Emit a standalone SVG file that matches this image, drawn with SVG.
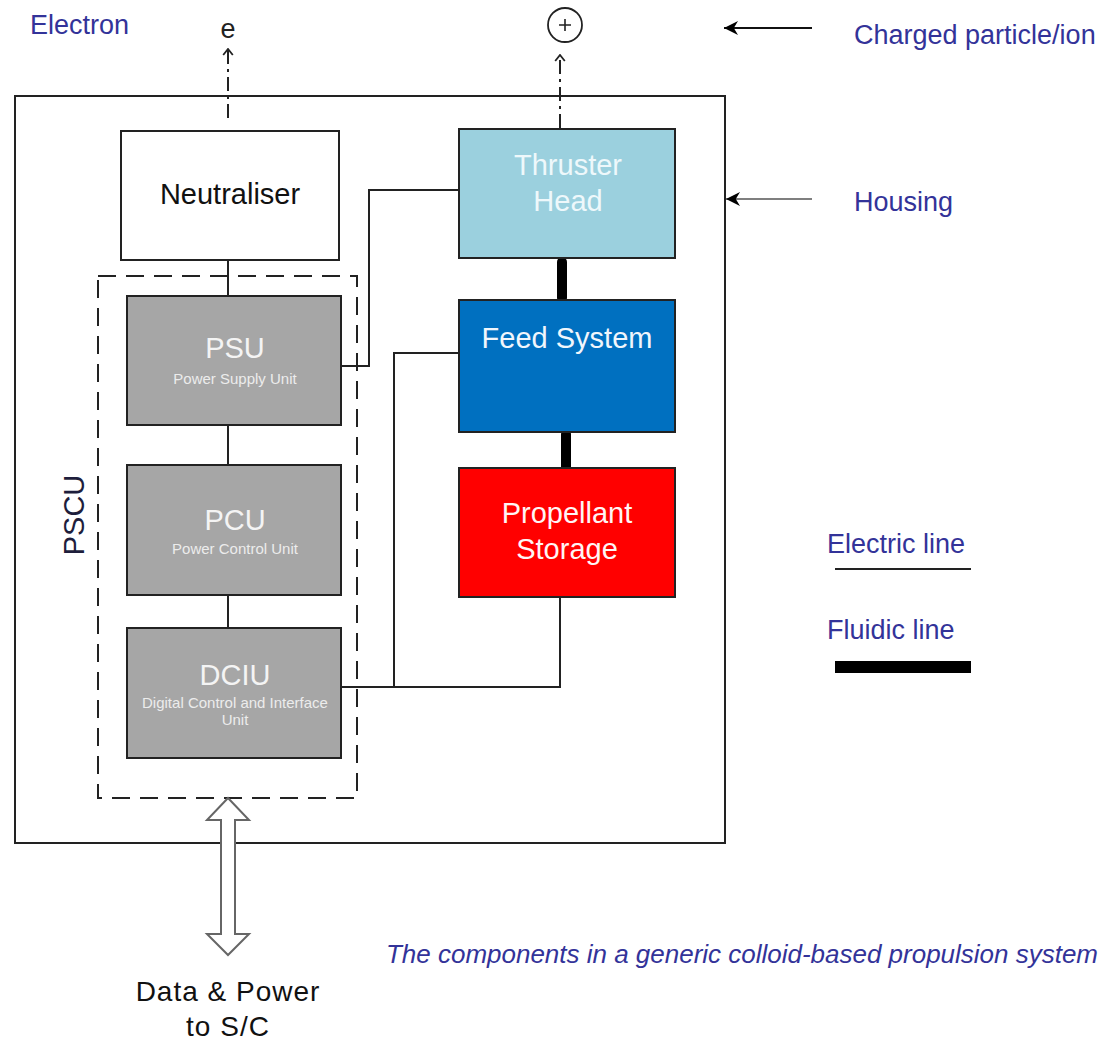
<svg xmlns="http://www.w3.org/2000/svg" width="1106" height="1041" viewBox="0 0 1106 1041">
  <style>
    .lbl { font-family: "Liberation Sans", Arial, sans-serif; fill: #333399; font-size: 27px; }
    .box { stroke: #222; stroke-width: 2; }
    .grey { fill: #a6a6a6; }
    .wire { fill: none; stroke: #222; stroke-width: 2; }
    .fluid { stroke: #000; stroke-width: 10; stroke-linecap: round; }
    .title { font-family: "Liberation Sans", Arial, sans-serif; font-size: 29px; text-anchor: middle; }
    .sub { font-family: "Liberation Sans", Arial, sans-serif; font-size: 15px; fill: #ececec; text-anchor: middle; }
    .emit { fill: none; stroke: #222; stroke-width: 2; stroke-dasharray: 14 5 3 5; }
  </style>
  <defs>
    <marker id="chev" viewBox="0 0 10 10" refX="9" refY="5" markerWidth="12" markerHeight="12" markerUnits="userSpaceOnUse" orient="auto">
      <path d="M4,1 L9,5 L4,9" fill="none" stroke="#222" stroke-width="1.5"/>
    </marker>
    <marker id="solid" viewBox="0 0 10 10" refX="10" refY="5" markerWidth="14" markerHeight="14" markerUnits="userSpaceOnUse" orient="auto">
      <path d="M0,0 L10,5 L0,10 L3,5 Z" fill="#000"/>
    </marker>
  </defs>

  <!-- housing -->
  <rect id="housing" x="15" y="96" width="710" height="747" fill="none" stroke="#222" stroke-width="2"/>

  <!-- PSCU enclosure -->
  <g id="pscu">
    <rect x="98" y="276" width="259" height="522" fill="none" stroke="#222" stroke-width="2" stroke-dasharray="18 10"/>
    <text x="84" y="515" transform="rotate(-90 84 515)" text-anchor="middle" font-family="Liberation Sans, Arial, sans-serif" font-size="29" fill="#1e1e3c">PSCU</text>
  </g>

  <!-- connectors -->
  <g id="connectors">
    <path class="wire" d="M228,260 V296"/>
    <path class="wire" d="M228,425 V465"/>
    <path class="wire" d="M228,595 V628"/>
    <path class="wire" d="M341,366 H369 V190 H459"/>
    <path class="wire" d="M341,687 H560 V597"/>
    <path class="wire" d="M394,687 V353 H459"/>
    <line class="fluid" x1="562" y1="262" x2="562" y2="298"/>
    <line class="fluid" x1="566" y1="434" x2="566" y2="469"/>
    <path class="emit" d="M228,118 V49" marker-end="url(#chev)"/>
    <path class="emit" d="M560,128 V55" marker-end="url(#chev)"/>
    <line x1="812" y1="28" x2="724" y2="28" stroke="#111" stroke-width="2" marker-end="url(#solid)"/>
    <line x1="812" y1="199" x2="726" y2="199" stroke="#555" stroke-width="1.5" marker-end="url(#solid)"/>
    <!-- data & power link -->
    <path d="M228,798 L249,820 L235,820 L235,934 L249,934 L228,955 L207,934 L221,934 L221,820 L207,820 Z" fill="#fff" stroke="#666" stroke-width="2"/>
  </g>

  <!-- emitted species -->
  <text x="228" y="38" text-anchor="middle" font-family="Liberation Sans, Arial, sans-serif" font-size="27" fill="#222">e</text>
  <g id="ion">
    <circle cx="565" cy="25" r="17" fill="#fff" stroke="#222" stroke-width="1.8"/>
    <path d="M559,25 H571 M565,19 V31" stroke="#222" stroke-width="1.6"/>
  </g>

  <g id="neutraliser">
    <rect class="box" x="121" y="131" width="218" height="129" fill="#fff"/>
    <text class="title" x="230" y="204" fill="#111">Neutraliser</text>
  </g>

  <g id="psu">
    <rect class="box grey" x="127" y="296" width="214" height="129"/>
    <text class="title" x="235" y="358" fill="#f4f4f4" font-size="30">PSU</text>
    <text class="sub" x="235" y="384">Power Supply Unit</text>
  </g>

  <g id="pcu">
    <rect class="box grey" x="127" y="465" width="214" height="130"/>
    <text class="title" x="235" y="530" fill="#f4f4f4" font-size="30">PCU</text>
    <text class="sub" x="235" y="554">Power Control Unit</text>
  </g>

  <g id="dciu">
    <rect class="box grey" x="127" y="628" width="214" height="130"/>
    <text class="title" x="235" y="685" fill="#f4f4f4" font-size="30">DCIU</text>
    <text class="sub" x="235" y="708">Digital Control and Interface</text>
    <text class="sub" x="235" y="725">Unit</text>
  </g>

  <g id="thruster-head">
    <rect class="box" x="459" y="129" width="216" height="129" fill="#9bd0de"/>
    <text class="title" x="568" y="175" fill="#eef8fb">Thruster</text>
    <text class="title" x="568" y="211" fill="#eef8fb">Head</text>
  </g>

  <g id="feed-system">
    <rect class="box" x="459" y="300" width="216" height="132" fill="#0070c0"/>
    <text class="title" x="567" y="348" fill="#f0f6fc">Feed System</text>
  </g>

  <g id="propellant-storage">
    <rect class="box" x="459" y="468" width="216" height="129" fill="#ff0000"/>
    <text class="title" x="567" y="523" fill="#fff5f5">Propellant</text>
    <text class="title" x="567" y="559" fill="#fff5f5">Storage</text>
  </g>

  <!-- labels -->
  <text class="lbl" x="30" y="34">Electron</text>
  <text class="lbl" x="854" y="44">Charged particle/ion</text>
  <text class="lbl" x="854" y="211">Housing</text>

  <g id="legend">
    <text class="lbl" x="827" y="553">Electric line</text>
    <line x1="835" y1="569" x2="971" y2="569" stroke="#222" stroke-width="2"/>
    <text class="lbl" x="827" y="639">Fluidic line</text>
    <rect x="835" y="661" width="136" height="12" fill="#000"/>
  </g>

  <text x="228" y="1001" text-anchor="middle" font-family="Liberation Sans, Arial, sans-serif" font-size="28" letter-spacing="1" fill="#111">Data &amp; Power</text>
  <text x="228" y="1036" text-anchor="middle" font-family="Liberation Sans, Arial, sans-serif" font-size="28" letter-spacing="1" fill="#111">to S/C</text>

  <text x="386" y="963" font-family="Liberation Sans, Arial, sans-serif" font-size="26" font-style="italic" fill="#333399" textLength="712" lengthAdjust="spacingAndGlyphs">The components in a generic colloid-based propulsion system</text>
</svg>
